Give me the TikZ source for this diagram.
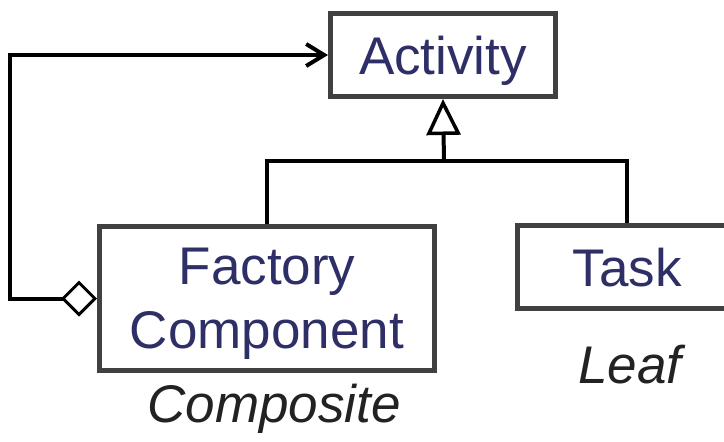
\documentclass[tikz,border=0pt]{standalone}
\usepackage{fontspec}
\setmainfont{Liberation Sans}
\usetikzlibrary{arrows.meta}
\definecolor{boxline}{HTML}{404040}
\definecolor{classtext}{HTML}{2E2F66}
\definecolor{roletext}{HTML}{222222}
\tikzset{
  classbox/.style={draw=boxline, line width=5pt, fill=white, inner sep=0pt,
    align=center, text=classtext, text depth=0pt,
    font=\fontsize{53}{64}\selectfont},
  link/.style={draw=black, line width=4pt},
  role/.style={text=roletext, inner sep=0pt, anchor=base,
    font=\fontsize{53}{64}\selectfont\itshape}
}
\begin{document}
\begin{tikzpicture}[x=1pt,y=-1pt]
\useasboundingbox (0,0) rectangle (724,442);
\clip (0,0) rectangle (724,442);

% classes
\node[classbox, minimum width=225pt, minimum height=83pt] (activity) at (443,55) {Activity};
\node[classbox, minimum width=335pt, minimum height=144pt] (fc) at (267,298.5) {Factory\\Component};
\node[classbox, minimum width=219pt, minimum height=83pt] (task) at (627,267) {Task};

% role labels
\node[role] (composite) at (274,422) {Composite};
\node[role] (leaf) at (630,383) {Leaf};

% generalization
\coordinate (bus) at (444,161);
\draw[link, -{Triangle[length=36pt, width=34pt, fill=white, line width=3.5pt]}] (bus) -- (activity.south);
\draw[link] (fc.north) |- (bus) -| (task.north);

% aggregation back to Activity
\draw[link, line join=miter,
  {Diamond[length=36pt, width=36pt, fill=white, line width=3pt]}-{Straight Barb[length=18pt, width=22pt, line width=4pt]}]
  (fc.west) -- ++(-87,0) |- (activity.west);
\end{tikzpicture}
\end{document}
